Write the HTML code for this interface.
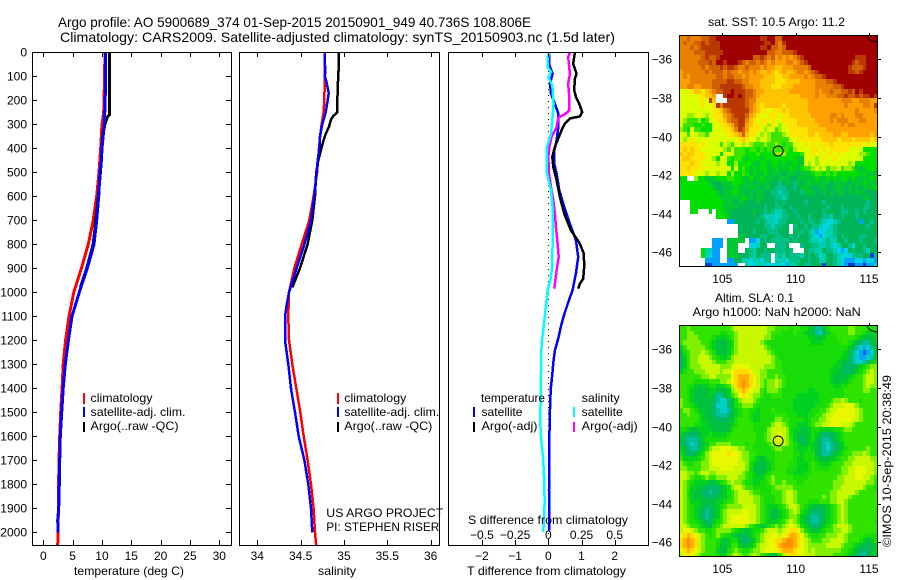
<!DOCTYPE html>
<html lang="en">
<head>
<meta charset="utf-8">
<title>Argo profile chart</title>
<style>
html,body{margin:0;padding:0;background:#fff;width:900px;height:580px;overflow:hidden}
svg{display:block}
text{font-family:"Liberation Sans",sans-serif;font-size:12px;fill:#000}
.t14{font-size:14px}
</style>
</head>
<body>
<svg id="chart" xmlns="http://www.w3.org/2000/svg" width="900" height="580" viewBox="0 0 900 580">
  <rect x="0" y="0" width="900" height="580" fill="#fff"/>
  <g id="maps"></g>
  <g id="profiles"></g>
  <g id="axes"></g>

  <text class="t14" x="58" y="27" textLength="473" lengthAdjust="spacingAndGlyphs">Argo profile: AO 5900689_374 01-Sep-2015 20150901_949 40.736S 108.806E</text>
  <text class="t14" x="60" y="42" textLength="555" lengthAdjust="spacingAndGlyphs">Climatology: CARS2009. Satellite-adjusted climatology: synTS_20150903.nc (1.5d later)</text>

  <text x="74" y="575" textLength="110" lengthAdjust="spacingAndGlyphs">temperature (deg C)</text>
  <text x="318" y="575" textLength="38" lengthAdjust="spacingAndGlyphs">salinity</text>
  <text x="467" y="575" textLength="159" lengthAdjust="spacingAndGlyphs">T difference from climatology</text>
  <text x="468" y="524" textLength="160" lengthAdjust="spacingAndGlyphs">S difference from climatology</text>

  <g>
    <rect x="83" y="393" width="2" height="11" fill="#f00"/>
    <rect x="83" y="407" width="2" height="10" fill="#00f"/>
    <rect x="83" y="422" width="2" height="10" fill="#000"/>
    <text x="90.5" y="402" textLength="62" lengthAdjust="spacingAndGlyphs">climatology</text>
    <text x="90.5" y="416" textLength="95" lengthAdjust="spacingAndGlyphs">satellite-adj. clim.</text>
    <text x="90.5" y="430" textLength="88" lengthAdjust="spacingAndGlyphs">Argo(..raw -QC)</text>
  </g>
  <g>
    <rect x="337" y="393" width="2" height="11" fill="#f00"/>
    <rect x="337" y="407" width="2" height="10" fill="#00f"/>
    <rect x="337" y="422" width="2" height="10" fill="#000"/>
    <text x="344.3" y="402" textLength="62" lengthAdjust="spacingAndGlyphs">climatology</text>
    <text x="344.3" y="416" textLength="95" lengthAdjust="spacingAndGlyphs">satellite-adj. clim.</text>
    <text x="344.3" y="430" textLength="88" lengthAdjust="spacingAndGlyphs">Argo(..raw -QC)</text>
  </g>
  <g>
    <text x="481" y="402" textLength="64" lengthAdjust="spacingAndGlyphs">temperature</text>
    <rect x="473" y="407" width="2" height="10" fill="#00f"/>
    <rect x="473" y="422" width="2" height="10" fill="#000"/>
    <text x="481.5" y="416" textLength="41" lengthAdjust="spacingAndGlyphs">satellite</text>
    <text x="481.5" y="430" textLength="56" lengthAdjust="spacingAndGlyphs">Argo(-adj)</text>
    <text x="581.7" y="402" textLength="38" lengthAdjust="spacingAndGlyphs">salinity</text>
    <rect x="573" y="407" width="2" height="10" fill="#0ff"/>
    <rect x="573" y="422" width="2" height="10" fill="#f0f"/>
    <text x="581.7" y="416" textLength="41" lengthAdjust="spacingAndGlyphs">satellite</text>
    <text x="581.7" y="430" textLength="56" lengthAdjust="spacingAndGlyphs">Argo(-adj)</text>
  </g>

  <text x="326.3" y="517" textLength="117" lengthAdjust="spacingAndGlyphs">US ARGO PROJECT</text>
  <text x="326.3" y="531" textLength="113" lengthAdjust="spacingAndGlyphs">PI: STEPHEN RISER</text>

  <text x="708" y="26" textLength="137" lengthAdjust="spacingAndGlyphs">sat. SST: 10.5 Argo: 11.2</text>
  <text x="715" y="302" textLength="79" lengthAdjust="spacingAndGlyphs">Altim. SLA: 0.1</text>
  <text x="692.7" y="316" textLength="168" lengthAdjust="spacingAndGlyphs">Argo h1000: NaN h2000: NaN</text>
  <text transform="translate(891,547) rotate(-90)" textLength="172" lengthAdjust="spacingAndGlyphs">©IMOS 10-Sep-2015 20:38:49</text>
</svg>

<script>
/* ---------- tick labels ---------- */
const depthTicks = [0,100,200,300,400,500,600,700,800,900,1000,1100,1200,1300,1400,1500,1600,1700,1800,1900,2000];
const tempTicks = [0,5,10,15,20,25,30];
const salTicks = [34,34.5,35,35.5,36];
const tDiffTicks = [-2,-1,0,1,2];
const sDiffTicks = [-0.5,-0.25,0,0.25,0.5];
const lonTicks = [105,110,115];
const latTicks = [-36,-38,-40,-42,-44,-46];

/* ---------- temperature panel ---------- */
const climDepth = [0,100,150,250,300,400,500,600,700,800,900,1000,1100,1200,1300,1400,1500,1600,1700,1800,1900,2000,2055];
const climTemp = [10.5,10.45,10.4,10.3,10.0,9.78,9.5,9.1,8.5,7.67,6.5,5.2,4.38,3.8,3.4,3.2,2.96,2.8,2.67,2.6,2.58,2.5,2.45];
const satDepth = [0,100,200,300,400,450,500,600,700,800,900,1000,1100,1200,1300,1400,1500,1600,1700,1800,1900,1950,2000];
const satTemp = [10.63,10.6,10.55,10.4,10.0,9.9,9.66,9.44,9.1,8.64,7.5,6.14,4.9,4.27,3.75,3.4,3.13,2.9,2.8,2.73,2.62,2.45,2.5];
const argoTempDepth = [0,260,270,300,350,450,600,800,900,980];
const argoTemp = [11.3,11.3,10.9,10.5,10.1,9.9,9.4,8.5,7.4,6.3];

/* ---------- salinity panel ---------- */
const climSalDepth = [0,100,200,250,300,350,400,500,600,700,800,900,1000,1100,1200,1300,1400,1500,1600,1700,1800,1900,2000,2055];
const climSal = [34.78,34.78,34.773,34.766,34.742,34.725,34.712,34.69,34.65,34.6,34.512,34.427,34.366,34.358,34.366,34.404,34.45,34.496,34.535,34.58,34.62,34.65,34.666,34.68];
const satSalDepth = [0,50,70,100,125,170,200,250,300,350,400,450,500,600,700,800,900,1000,1050,1100,1200,1300,1400,1500,1600,1700,1800,1900,2000];
const satSal = [34.78,34.78,34.785,34.78,34.80,34.824,34.812,34.789,34.75,34.724,34.716,34.697,34.685,34.658,34.62,34.543,34.454,34.366,34.34,34.32,34.32,34.358,34.389,34.435,34.478,34.543,34.589,34.62,34.635];
const argoSalDepth = [0,50,100,150,250,265,280,310,340,370,450,500,600,700,800,900,980];
const argoSal = [34.943,34.94,34.935,34.927,34.923,34.877,34.85,34.827,34.789,34.762,34.704,34.68,34.666,34.635,34.58,34.492,34.404];

/* ---------- difference panel ---------- */
const satTDiffDepth = [0,50,89,130,172,214,256,311,367,408,464,506,575,644,714,783,853,922,992,1042,1092,1142,1192,1242,1292,1342,1392,1442,1547,1645,1825,1992];
const satTDiff = [0.03,0.02,0.13,0.05,0.08,0.2,0.3,0.3,0.25,0.18,0.18,0.25,0.33,0.48,0.65,0.83,0.9,0.83,0.73,0.6,0.48,0.38,0.3,0.2,0.15,0.12,0.08,0.06,0.04,0.03,0.02,0.02];
const argoTDiffDepth = [0,19,47,89,110,158,186,214,249,267,276,297,318,353,394,436,478,533,603,672,742,769,797,839,894,943,964,985];
const argoTDiff = [0.8,0.78,0.75,0.85,0.8,0.78,0.83,0.93,1.02,0.95,0.65,0.5,0.42,0.32,0.2,0.12,0.15,0.25,0.35,0.48,0.68,0.82,0.95,1.07,1.08,1.05,0.95,0.9];
const satSDiffDepth = [0,19,61,82,103,138,214,283,339,394,436,506,575,644,783,894,950,992,1042,1092,1142,1192,1242,1342,1442,1547,1617,1686,1783,1881,1999];
const satSDiff = [0.0075,-0.0025,-0.005,0.02,0,0.03,0.04,0.03,0.02,-0.01,-0.0125,-0.01,0.02,0.0325,0.0325,0.03,0.015,-0.005,-0.015,-0.025,-0.035,-0.045,-0.0525,-0.055,-0.058,-0.06,-0.0525,-0.04,-0.03,-0.0275,-0.0375];
const argoSDiffDepth = [0,19,89,130,172,242,258,272,311,353,394,436,506,561,617,672,728,783,853,908,985];
const argoSDiff = [0.163,0.15,0.163,0.15,0.156,0.158,0.125,0.075,0.0625,0.025,0.0075,0,0.005,0.02,0.0375,0.05,0.0575,0.0675,0.078,0.0625,0.045];

/* ---------- float position ---------- */
const argoLon = [108.806];
const argoLat = [-40.75];

/* ---------- map levels: A warmest/highest ... R coldest/lowest, "." missing ---------- */
const sstGrid = [
"DDCDDDCCB BAAAAAAAA AAAABBAAC CAAAAAAAA AAAAAAAAA AAAAAAAAA",
"DCDDCCBCB BBAAAAAAA AAAAABBAC DBAAAAAAA AAAAAAAAA AAAAAAAAA",
"DDDCDCBBB BBAAAAAAA AAAABBACC DCAAAAAAA AAAAAAAAA AAAAAAAAA",
"DDDDCCCBB BBBAAAAAA AAAAAACCD DCCCBAAAA AAAAAAAAA AAAAAAAAA",
"DDDDDDCBC CBAAAAAAA AACCBCDCE DEDEDCBAA AAAAAAAAA AAABBBAAA",
"DDDDDCCCB CAABAAABC DCCDCDEDE EEDDEDCBA AAAAAAAAA AABCBBAAA",
"DDDDDDCDC CCBCBBCDD CDDDEDEEF FEEEDDDDC AAAAAAAAA ABCCCBAAA",
"EDDDDDDCD CCCDCDDED DEDEFFEFG FEFFEDDED CBAAAAAAA ABBCBAAAA",
"EDEDDDDDD DCCDCCDDE DEEEEFFFG GFFEEEEDE DCCBAAAAA AAAAAAAAA",
"EEEDDDDDD CCCCBBCCD DEEEFFFFG GGFFFFEEE EDDDCCBAA AAAAAAAAA",
"EEDDEEDDD CCBBBBBBC DDEEFFFGG GFFFEEEEE EDDDDDCCB AAAAAAAAA",
"HHHGFFGFE DCCBBABBB CCDEEFFFF FFFEEEEEE EDEDDCDDC CBCABAAAA",
"HHHHHGGFF E..BAABAB CCDEFFFFF FFFFFFEEE EDEEDDDCC BCCBCBBAB",
"HHHHHHGHB F...BBBBB CDDFFFFFF FFFFFFFFE EEEEEEEED DDEEDDDEE",
"HHHHHHGHH GBDBBBBBB CDEFGFFFF FGFFFFFFE EEEEEEEEE DEEEEDDEB",
"HHHHHHHHH GGFDCBBBB BDEFGGHGG GFGFFFFFE EEEEEEEEE EEEDEEEED",
"HHIIHHHIH GGGEDCBBB CEFGHHGGG HGGFFFFFF EEEEEDDED EEEDDEEEE",
"HIJJJIKJH HGGFDCCBB DFGHGGHGH HGGGGFFFF FEEEEDEDD DEEEDDEEE",
"HJJJKKJKK HHGGFECBB EFGGHGIGH IHGGGFFFF FFEEEEEED EDDEEEEEE",
"IJKHJJKKK HHHGGFDBC EGGGHIHHJ IHHGGGGGF FFFFEEEEE EEEEEEEEE",
"HHJHHIIJH HHHHGGFEC FGGHIHIJJ JIHGGGGGF FGFFFFEEF FEEEEEEFE",
"HIHGHHHHH HHHHHHHGF GHHIHHIJJ JJJHHGGGG GGGFFFFGF FFGFFFFGF",
"GGGGGHGHH HHJHIJHHI HIJJJIJJI JKJJHHHGH GHGGGFGGG GGGGGHGHH",
"GFGFGGHHH HHHIJHJJJ KJJKJKJJJ JJJKIHHHH GGHGHGGGG GHHHHKKKK",
"FGFFGGGHH HHKHHHJJJ KKKJKKKKI IIKKKKJHH GHGHGGHGH HHHHIIJKK",
"GFFGGGGHH IKHHJKJJK LKKKLKKKK KKKKKLLHH HIHGHHGHH HHHHHKKKK",
"GGGFGGHHH HIHHKKIKK KKLLKKLKK LKLLKLLHI HIHHHHHHH HIHKKKKKK",
"GGFGGHGHH HHHHHKHKJ KLKLKKLLK LLLKLLKJJ IHIHJIIHJ IIJLLLKKK",
"GGGGHHHIH HIHHKIKKJ KLKLLKLLL LMLLLMLLL KJJKJKJKK KKKKLKLLL",
"KK..IKKLL LKKKJJKKL LKLLKLLLM LLLMMLLLL LKLLKLKLK KLKLLLLKL",
"KKKKKKKKL MMLLLKKKL LLMLLLLMM NMLMNLMLL LLLLLMLLL LMLLLKLLL",
"KKKKKKKKK LMMLLLKLL LLLLMLLMN NNMMNMLLL MMLLMMLLL MLMLMLLLK",
"KKKKKKKKK KLMLLKKLL MLMLLMMNN ONNMMMNLL LMMLMLMLL MLMLLMMMM",
"KKKKKKKKK KKLLLLLLK LLMLLMMMN NONMMMMMM MMMMMMMMM MMMMMLLMM",
"...KKKKKK KKKLLLMLL MMMLMMMMN MNMMMMMNM MMMNMMMMM MMMMMMNMM",
"...KKKKKK KKKLLLLMM MMMMMNMMN NMMNMMMMM MMMMNMMMN MMMMMNNMM",
"...KK...K .KKLLMMMM MMLMMNMNO ONMMNMMMM MMMNMMMMN NMMNMNMMM",
"......... .KKKLMMMM MMMMNOOOP ONNMMNMMN MMMNNOMMN MMMNMMMMM",
"......... ....QQMMM MMMNMNOOP NNMMMMNMN NMNOPPONM MMMMQMMNM",
"......... .......MM MMMMMNNON NMM.NMMNM NNOPPONMM MMMMMMNMM",
"......... .......MM MMNMMMNNN MMM.MMNMN OQPPOONMM MMMMMMMMM",
"......... .......LM MMMMNNMMN NMMNMNMMN OPQPOONMN MMMMNNMMM",
"......... QQQ.LLLLL .QQPMNMNN NNNMNMMMN OOPONOOMM NMMMNMMMN",
"......... QQQ.LLL.. .PPOMM..N NNM...NMM NNOONOPOM MNPMMNMMM",
"......KOO QQ..LLL.. MNOMMNMMN NNMN...MN NOOMNNOPQ PMNMMNOMM",
"......KOP QQ..LLLMM MNOMNNN.O NOMNNNOMN MNPOMMNOP PPNNNMMRN",
".......QQ QQ..QQMMO OPOOPNN.O OOPNNNMMN MMOOMMNOP QQQPPQPPQ",
".......RR QQQQQQQ.. OPPOOPPPO PPQOOMMNN MMMRMMNOP QRRQQRQQP"
];
const slaGrid = [
"JJIJJJJJJ JJJJJIHHH HHHHHHIIJ JJJKJJKKL MOOMKJJJJ JIIJJJKKK",
"JJIIJJJJJ JJKKJJIHH HHHHHHIJJ JKKKJKKLL MOPNLKJJJ JIIJJKLLL",
"JJIIIJJJJ KLLLKJIHH HHHHHIIJK KKKKKKKKL LMMLKKKJJ JJJKLMMML",
"JIIIIIJJK LMMMLKIHH HHHHIJKKK KKKKKKKKK LLLKKKKKJ JKLMNOOMM",
"LJIIIIIJK LMMMLKIHH HHHHHIJKK KKKKKKKKK KKKKKKKKK KLMOPQPOM",
"MKJIIIHIJ KMMMLJIHH HHHHHHIJK KKKKKKKKK KKKKKKKKK LMOPQRQPM",
"NLJIIHHHI JKLLKIHHH HHHHHHHIJ KKKKKKKKK KKKKKKKKL LNOPQQPOL",
"NLJIIHHHH IJJJIIHHH HHHHHHHIJ JKKKKKKKK KKKKKKKLM MNOPPONLK",
"NLJIIIHHH HHIIIHGGG GHHHHIIIJ JKKKKKKKK KKKKKKLLM NNNMLKJII",
"LKJJIIIHH HHIHHGFFF FGHHIIJJJ JKKKKKKKK KKKKKLLMM NNMLKJIHI",
"JJJJJJIIH HIIIIGFEE EFGHIIJJI JJKKKKKKK KKKKKLMMM MLKJJIHHI",
"JJJJKKKKJ JJIIHGFED EFGHIJIIH IJKKKKKKK KKKKKLMML LKJJJIHHI",
"JJKKLMLLK KLLKJHFED EFGHIJIIH IJKKKKKKK KKKKKKLLK KJJJJIHII",
"JJKLMMMML LMMMLIHFE FGHHJKIII JKKKKKKKL LKKKKKKKK JJJJJIIJJ",
"JJKLMMMML MOOMLJIGF GHIIJKKJJ JKKKKLLLL LLKKKKKKK JJJJJJJJJ",
"IJKLMMMMM NOPPNMKIH HHIJKKKKK KKKKLLLLL LLKKKJIIH IJJJKJJJJ",
"IJJKLMMMM NPPPNMKJI IIJKKKKKK KKKKLLLLL LKKKJIHHH GGHIJJJJJ",
"JIIJKLMMM NOPPOMLKJ JKKLKKKJK KKKKLLLLL KKJJIHHGG GGGHIJJJJ",
"JJIJJKLMM NOOONMLKJ JKLLKKKKJ JJKKKLLLK KJJIHHGGG GGGHIJJJJ",
"JJJJJKLMM MNNNMMKJJ JKLLKKKKI IJJKKKKLK JJIIHGGGG GGHHIJJJJ",
"JJJJKKLLM MMMMMLKJJ JJKKKKKIH HIJKKLLLK JIIHHGGGH HHIJJJJJJ",
"KKLMMLLLL MMMMMKJJJ JJKKKKIHH HHIKLLMML KKLLLLKKJ IIJJJJJJJ",
"LMNNNMLLK LLLLKJJJJ JJJKKJIHH GHIKLMMML KLMNNNMLK JJJJJJJJJ",
"MNOOONLKK KKKKJJJJJ JJJKKJIHH GHIJLMNML KMNOONMLK JJJJJJJJJ",
"MNOPONMLJ JIIIIJJJJ KJKKKKJIH HHIJKLMML LMNOPONML JJJJJJJJJ",
"LMNOONLKI HHGGGHHII JJKKKKKJI IJJJKLLLK LMNOPONML KJJJJJIJJ",
"KMNNMLKIH GGGGFGGHI IJJKKKKKJ JJJJKKLKK KMNOONMLK JJIIIHIJJ",
"JLLLLKJIH GGGGGGGHI IJKLMLKKJ JJJJKLLKK KLMMMMLKJ JIIHHHHII",
"IJKKJJIIH GGGGGGGHH IKLMMMLKJ JJJKKLLLK JKLLLKJJJ IIHHHHHHI",
"IIJJJJIIH HHGGGGHHH IKMMMMLKJ JJKKKLLLK JKKKKJJJI IHHGGGHHI",
"HHIIJIHHI IHHHHHHHI JKLMMLKJJ JJKKLLLKK JJJJJJJJI IHHGGGHHI",
"HHIJKKJIJ JIIIHHHII JKLLLKJIJ JJJJKKKKJ JJJJJJJII HHHGGHHIJ",
"HIJKLLLLM MLKJIHIIJ KKLLKKJIJ JIJJJKKJJ JJJJJJIII HHHHHHIIJ",
"HIJLLMMNN NNMLKIHHI JJKKKKKJI IIIIJJJJJ JJJJJJIIH HHHHHIJJK",
"HIKLMMNNO NNMLKJIHH HIJJKKKJJ JIHHIJJJJ JJJJJIIHH HHHIJJJJJ",
"HIKLMMMNN NMMLKJIHH HHIIJKKKJ JIHHIJJJJ JJJIJIIHH HIJJJJJJJ",
"HIJLLLMMM MLLKJJIHH HHIIJKKKJ JIHHIJJJK KKJJJIIHH IJJJJJJJJ",
"HIJKLLMNM MLKJIIIIH HHHIJKLLL KJIHHIJKL MMMMLKJIH IJJJJJJJJ",
"HIJKLMNON MLJIHHHHG GHHIJKLMM LKJIHIKLM NNNMLKJIH IJJJJJJJJ",
"HIJKLMNON MLJIHGGGG GHHIJKLMM LKJIIJLMN OONMLKJIH IJJJJJJJJ",
"HIJKKLMNN LKJIHGGGG GHHIJKLLL KJIHIJLMN OONMLKJIH IJJJJJJJK",
"HHIJJKLMM KJIHHHHHH IJKLMLKJI JIHGHIKLM NNMLKJIHH HIJJJJJJJ",
"HGGHIJJKK JIIIIJKLL MLKKJIHHH IHGFFGIKL MMLKJJIIH HIJJJJJJJ",
"GFEFGHIJK JIJKKLMMN MLKJIHHGG HGFEEFGIJ KKJJIIIHH IJJJJKKKK",
"FEDEFHIJJ JKLMLKKMN NMLJIHGGF FEDDEFGHI JJJIIHHHH IJJJKLMLK",
"FEDEFHIJJ JKMMLJJLM MLKIHHGGF EDDDEFGHI IIIIHHHHI JJKLMMNML",
"GFEFGHIJJ JLMMKJIJK KJIIHGGGG FEEEFGGHI HIIIIIIIJ JKLMNNNML",
"HGFGHIJJJ JKMLJIHIJ JIHIJKLMM JHGFFGGHH HIIIIIJJJ KLMNOONML"
];

/* ---------- colour maps for the level letters ---------- */
const sstColor = {
  A:'#a00000',B:'#b83800',C:'#d06000',D:'#e88000',E:'#ffa000',F:'#ffc400',G:'#ffe400',
  H:'#dcff00',I:'#98f000',J:'#38e400',K:'#00e000',L:'#00c834',M:'#00b458',N:'#00c088',
  O:'#00d0b0',P:'#00d4dc',Q:'#00a0ff',R:'#0040d8'
};
const slaColor = {
  A:'#a00000',B:'#b83800',C:'#d06000',D:'#ff9000',E:'#ffb000',F:'#ffdc00',G:'#e8f800',
  H:'#c8f800',I:'#80f000',J:'#30e400',K:'#18dc08',L:'#00d020',M:'#00c040',N:'#00b868',
  O:'#00c09c',P:'#00d0c8',Q:'#00a8f0',R:'#0060e0'
};

const NS = 'http://www.w3.org/2000/svg';
const mapsLayer = document.getElementById('maps');
const profilesLayer = document.getElementById('profiles');
const axesLayer = document.getElementById('axes');

/* ---------- axis functions ---------- */
function depthY(d){ return 52.3 + d * 0.24; }
function tempX(v){ return 43.3 + v * 5.867; }
function salX(v){ return 257.3 + (v - 34) * 86.67; }
function tDiffX(v){ return 548.3 + v * 33.2; }
function sDiffX(v){ return 548.3 + v * 132.8; }
function lonX(v){ return 722.3 + (v - 105) * 14.67; }
function latY(v, top){ return top + 23.3 + (-36 - v) * 19.3; }

const mapTops = [36, 326];
const frameRects = [[32.5,52.5,199,493],[239.5,52.5,200,493],[448.5,52.5,200,493]];

function drawLine(xValues, depths, xFn, color, width, name){
  const line = document.createElementNS(NS, 'polyline');
  
  
  line.setAttribute('points', xValues.map((v, i) => xFn(v).toFixed(1) + ',' + depthY(depths[i]).toFixed(1)).join(' '));
  line.setAttribute('fill', 'none');
  line.setAttribute('stroke', color);
  line.setAttribute('stroke-width', width);
  line.setAttribute('shape-rendering', 'crispEdges');
  profilesLayer.appendChild(line);
}

function drawTick(x1, y1, x2, y2){
  const tick = document.createElementNS(NS, 'line');
  
  
  tick.setAttribute('x1', x1);
  tick.setAttribute('y1', y1);
  tick.setAttribute('x2', x2);
  tick.setAttribute('y2', y2);
  tick.setAttribute('stroke', '#000');
  tick.setAttribute('shape-rendering', 'crispEdges');
  axesLayer.appendChild(tick);
}

function drawLabel(text, x, y, anchor){
  const label = document.createElementNS(NS, 'text');
  
  
  label.setAttribute('x', x);
  label.setAttribute('y', y);
  label.setAttribute('text-anchor', anchor);
  label.textContent = String(text).replace('-', '\u2212');
  axesLayer.appendChild(label);
}

function drawFrame(x, y, w, h){
  const frame = document.createElementNS(NS, 'rect');
  
  
  frame.setAttribute('x', x);
  frame.setAttribute('y', y);
  frame.setAttribute('width', w);
  frame.setAttribute('height', h);
  frame.setAttribute('fill', 'none');
  frame.setAttribute('stroke', '#000');
  frame.setAttribute('shape-rendering', 'crispEdges');
  axesLayer.appendChild(frame);
}

function drawMap(grid, palette, top, name){
  grid.forEach((rowText, r) => {
    const cells = rowText.split(' ').join('');
    const lat0 = -34.78 - r * 0.25;
    const y0 = Math.round(latY(lat0, top));
    const y1 = Math.min(Math.round(latY(lat0 - 0.25, top)), top + 231);
    for (let c = 0; c < cells.length; c++) {
      const level = cells[c];
      if (level === '.') continue;
      const lon0 = 102.07 + c * 0.25;
      const x0 = Math.round(lonX(lon0));
      const x1 = Math.min(Math.round(lonX(lon0 + 0.25)), 878);
      const cell = document.createElementNS(NS, 'rect');
      
      
      cell.setAttribute('x', x0);
      cell.setAttribute('y', y0);
      cell.setAttribute('width', x1 - x0);
      cell.setAttribute('height', y1 - y0);
      cell.setAttribute('fill', palette[level]);
      cell.setAttribute('shape-rendering', 'crispEdges');
      mapsLayer.appendChild(cell);
    }
  });
}

/* ---------- maps ---------- */
drawMap(sstGrid, sstColor, mapTops[0], 'sst-cell');
drawMap(slaGrid, slaColor, mapTops[1], 'sla-cell');

mapTops.forEach((top) => {
  drawFrame(679.5, top - 0.5, 198, 231);
  lonTicks.forEach((lon) => {
    drawTick(Math.round(lonX(lon)) + 0.5, top - 3, Math.round(lonX(lon)) + 0.5, top);
    drawLabel(lon, lonX(lon), top + 247, 'middle');
  });
  latTicks.forEach((lat) => {
    const yy = Math.round(latY(lat, top)) + 0.5;
    drawTick(878, yy, 881, yy);
    drawLabel(lat, 672, yy + 4, 'end');
  });
  argoLon.forEach((lon, i) => {
    const marker = document.createElementNS(NS, 'circle');
    
    
    marker.setAttribute('cx', lonX(lon));
    marker.setAttribute('cy', latY(argoLat[i], top));
    marker.setAttribute('r', 5);
    marker.setAttribute('fill', 'none');
    marker.setAttribute('stroke', '#000');
    mapsLayer.appendChild(marker);
  });
  const coast = document.createElementNS(NS, 'polyline');
  
  
  coast.setAttribute('points', '867,' + top + ' 869,' + (top + 3) + ' 872,' + (top + 5) + ' 877,' + (top + 6));
  coast.setAttribute('fill', 'none');
  coast.setAttribute('stroke', '#000');
  mapsLayer.appendChild(coast);
});

/* ---------- profile series ---------- */
drawLine(climTemp, climDepth, tempX, '#f00', 3, 'temperature-climatology-line');
drawLine(argoTemp, argoTempDepth, tempX, '#000', 3, 'temperature-argo-line');
drawLine(satTemp, satDepth, tempX, '#00f', 3, 'temperature-satellite-line');

drawLine(climSal, climSalDepth, salX, '#f00', 2.5, 'salinity-climatology-line');
drawLine(argoSal, argoSalDepth, salX, '#000', 2.5, 'salinity-argo-line');
drawLine(satSal, satSalDepth, salX, '#00f', 2.5, 'salinity-satellite-line');

const zeroLine = document.createElementNS(NS, 'line');


zeroLine.setAttribute('x1', 548.5);
zeroLine.setAttribute('y1', 53);
zeroLine.setAttribute('x2', 548.5);
zeroLine.setAttribute('y2', 545);
zeroLine.setAttribute('stroke', '#000');
zeroLine.setAttribute('stroke-dasharray', '1 5');
zeroLine.setAttribute('shape-rendering', 'crispEdges');
profilesLayer.appendChild(zeroLine);

drawLine(satTDiff, satTDiffDepth, tDiffX, '#00f', 2.5, 't-difference-satellite-line');
drawLine(argoTDiff, argoTDiffDepth, tDiffX, '#000', 2.5, 't-difference-argo-line');
drawLine(argoSDiff, argoSDiffDepth, sDiffX, '#f0f', 2.5, 's-difference-argo-line');
drawLine(satSDiff, satSDiffDepth, sDiffX, '#0ff', 2.5, 's-difference-satellite-line');

/* ---------- profile axes ---------- */
frameRects.forEach((f) => drawFrame(f[0], f[1], f[2], f[3]));

depthTicks.forEach((d) => {
  const yy = Math.round(depthY(d)) + 0.5;
  drawTick(32, yy, 37, yy);
  drawTick(226, yy, 231, yy);
  drawLabel(d, 27, yy + 4, 'end');
});

tempTicks.forEach((v) => {
  const xx = Math.round(tempX(v)) + 0.5;
  drawTick(xx, 52, xx, 57);
  drawTick(xx, 540, xx, 545);
  drawLabel(v, tempX(v), 560, 'middle');
});
salTicks.forEach((v) => {
  const xx = Math.round(salX(v)) + 0.5;
  drawTick(xx, 52, xx, 57);
  drawTick(xx, 540, xx, 545);
  drawLabel(v, salX(v), 560, 'middle');
});
tDiffTicks.forEach((v) => {
  const xx = Math.round(tDiffX(v)) + 0.5;
  drawTick(xx, 52, xx, 57);
  drawTick(xx, 540, xx, 545);
  drawLabel(v, tDiffX(v), 560, 'middle');
});
sDiffTicks.forEach((v) => {
  drawLabel(v, sDiffX(v), 539, 'middle');
});
</script>
</body>
</html>
